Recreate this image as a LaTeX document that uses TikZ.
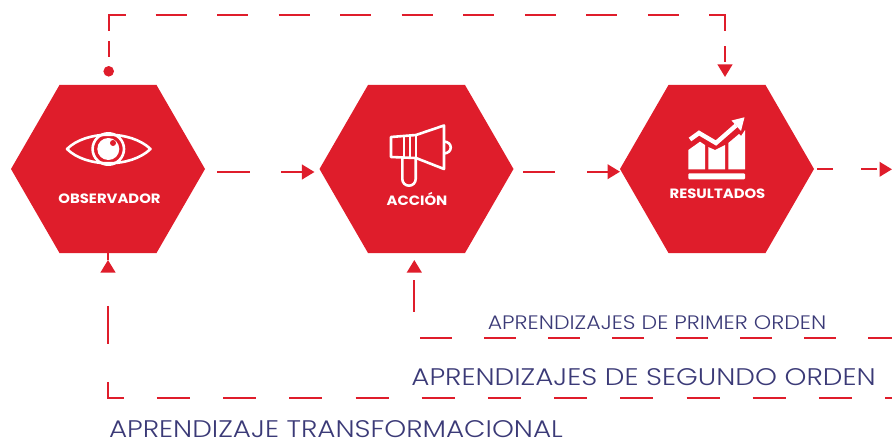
\documentclass[tikz,border=0pt]{standalone}
\usepackage{fontspec}
\setmainfont{Poppins}
\newfontfamily\finefont[FakeStretch=1.16]{Poppins Light}
\newfontfamily\primerfont[FakeStretch=1.135]{Poppins Light}
\newfontfamily\gruesafont[FakeStretch=1.1]{Poppins Bold}
\usetikzlibrary{arrows.meta,shapes.geometric}
\definecolor{rojo}{HTML}{DF1D2B}
\definecolor{tinta}{HTML}{3B3A77}
\tikzset{
  hexa/.style={regular polygon, regular polygon sides=6, minimum size=194pt, inner sep=0pt, outer sep=0pt, fill=rojo},
  linea/.style={rojo, line width=2.3pt},
  etiqueta/.style={anchor=base, inner sep=0pt, white, font=\fontsize{13.5}{13.5}\selectfont\gruesafont},
  orden/.style={anchor=base, inner sep=0pt, tinta, font=\fontsize{24}{24}\selectfont\finefont},
  icono/.style={white, line width=2.6pt, line join=round},
}
\begin{document}
\begin{tikzpicture}[x=1pt, y=-1pt, >={Triangle[length=12.5pt, width=14.5pt]}]
    \useasboundingbox (0,0) rectangle (892,439);
    % Draw hexagons
    \node [hexa] (observador) at (108,169) {};
    \node [hexa] (accion) at (416.5,169) {};
    \node [hexa] (resultados) at (717,169) {};
    \node [etiqueta] (lobservador) at (109.5,203) {OBSERVADOR};
    \node [etiqueta] (laccion) at (417,205) {ACCIÓN};
    \node [etiqueta] (lresultados) at (717.5,198.3) {RESULTADOS};
    % Free ends
    \coordinate (salida) at (892,169.3);
    \coordinate (finprimer) at (892,338.3);
    \coordinate (finsegundo) at (892,398);
    \coordinate (puntaobs) at (108,260);
    % Forward arrows
    \draw [->, linea, dash pattern=on 33 off 31, shorten <=12pt, shorten >=5pt] ([yshift=-3pt]observador.east) -- ([yshift=-3pt]accion.west);
    \draw [->, linea, dash pattern=on 32 off 32, shorten <=9.5pt] ([yshift=-2.7pt]accion.east) -- ([yshift=-2.7pt]resultados.west);
    \draw [->, linea, dash pattern=on 16 off 28, shorten <=3pt] ([yshift=-.3pt]resultados.east) -- (salida);
    % Loop on top
    \node [circle, fill=rojo, minimum size=10.6pt, inner sep=0pt] (punto) at (108.7,71.3) {};
    \draw [->, linea, shorten >=8pt,
        dash pattern=on 0 off 9 on 16.3 off 10 on 32.3 off 30
        on 31 off 30.55 on 31 off 30.55 on 31 off 30.55
        on 31 off 30.55 on 31 off 30.55 on 31 off 30.55
        on 31 off 30.55 on 31 off 30.55 on 31 off 30.55
        on 32 off 15 on 16 off 3]
        (punto.north) |- (725,15) -- ([xshift=8pt]resultados.north);
    % Loops below
    \draw [linea] (observador.south) -- (puntaobs);
    \draw [<-, linea, shorten <=7pt, dash pattern=on 32 off 32, dash phase=55.7] ([xshift=-2.2pt]accion.south) |- (finprimer);
    \draw [<-, linea,
        dash pattern=on 0 off 34 on 38 off 38 on 32 off 33
        on 33 off 33.2 on 33 off 33.2 on 33 off 33.2 on 33 off 33.2
        on 33 off 33.2 on 33 off 33.2 on 33 off 33.2 on 33 off 33.2
        on 33 off 33.2 on 33 off 33.2 on 33 off 33.2 on 33 off 33.2]
        (puntaobs) |- (finsegundo);
    % Texts
    \node [orden, font=\fontsize{19.5}{19.5}\selectfont\primerfont] (lprimer) at (657,329) {APRENDIZAJES DE PRIMER ORDEN};
    \node [orden] (lsegundo) at (643.5,385) {APRENDIZAJES DE SEGUNDO ORDEN};
    \node [orden] (ltransformacional) at (336,437) {APRENDIZAJE TRANSFORMACIONAL};
    % Eye
    \draw [icono] (67,149) .. controls (86,130) and (131,130) .. (150.5,149) .. controls (131,168) and (86,168) .. cycle;
    \draw [icono] (108.3,149) circle (15.7);
    \fill [white] (108.3,149) circle (11);
    \fill [rojo] (113,143) circle (3);
    % Megaphone
    \draw [icono] (444,125.5) -- (444,169) -- (416,158) -- (391,157) -- (391,137) -- (416,135) -- cycle;
    \draw [icono] (416,135) -- (416,158);
    \draw [icono] (404,136) -- (404,158);
    \draw [icono] (410,136) -- (410,158);
    \draw [icono] (402.3,158) -- (402.3,179) arc (180:0:6.7) -- (415.7,158);
    \draw [icono] (444,141.5) .. controls (453,142) and (453,153) .. (444,153.5);
    % Chart
    \fill [white, rounded corners=1pt] (688.3,173.3) rectangle (745,179.3);
    \fill [white] (688.3,169.3) -- (688.3,150) -- (700,141.7) -- (705,145) -- (705,169.3) -- cycle;
    \fill [white] (708.3,169.3) -- (708.3,147) -- (715,150) -- (725,145) -- (725,169.3) -- cycle;
    \fill [white] (728.3,169.3) -- (728.3,143) -- (739,134) -- (741,136) -- (745,130) -- (745,169.3) -- cycle;
    \draw [white, line width=4.4pt] (690,139.5) -- (699,133) -- (716,143) -- (736,125.5);
    \fill [white] (744.5,117.3) -- (731.5,120.5) -- (741,131) -- cycle;
\end{tikzpicture}
\end{document}
